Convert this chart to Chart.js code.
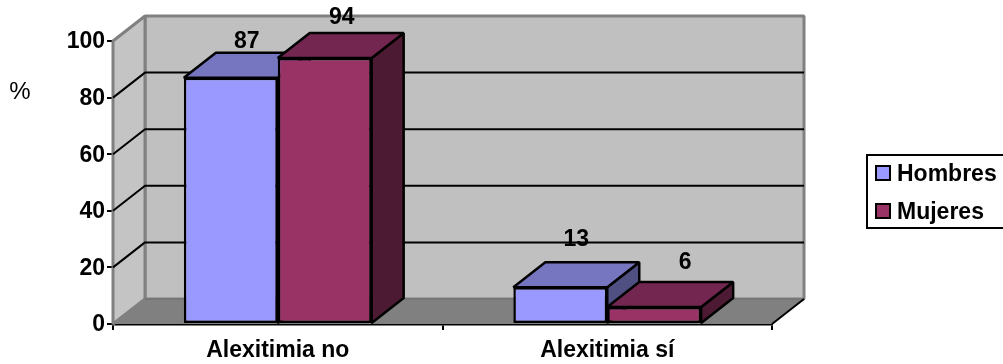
<!DOCTYPE html>
<html>
<head>
<meta charset="utf-8">
<style>html,body{margin:0;padding:0;background:#fff}canvas{display:block}</style>
<script src="https://cdn.jsdelivr.net/npm/chart.js@4"></script>
</head>
<body>
<canvas id="c" width="1003" height="364"></canvas>
<script>
// Alexitimia por sexo (%)
const categories = ['Alexitimia no', 'Alexitimia sí'];
const hombres = [87, 13];
const mujeres = [94, 6];
const yTicks = [0, 20, 40, 60, 80, 100];
const unitLabel = '%';

const FONT = '"Liberation Sans", Arial, sans-serif';
const DEPTH_X = 32, DEPTH_Y = 25;
const EDGE = 2.5;
const palette = [
  { front: '#9999FF', top: '#7676C0', side: '#4F4F82' },
  { front: '#993366', top: '#732750', side: '#4D1A33' }
];
// Nudges for the value labels, per series and category
const labelNudge = [[[16, -36], [16, -48]], [[17, -40], [31, -44]]];

function poly(ctx, pts, fill, stroke, width) {
  ctx.beginPath();
  pts.forEach((p, i) => i ? ctx.lineTo(p[0], p[1]) : ctx.moveTo(p[0], p[1]));
  ctx.closePath();
  if (fill) { ctx.fillStyle = fill; ctx.fill(); }
  if (stroke) { ctx.strokeStyle = stroke; ctx.lineWidth = width; ctx.stroke(); }
}

const box3d = {
  id: 'box3d',
  beforeDraw(chart) {
    // Optical centring of the value axis labels against their tick marks
    chart.scales.y.getLabelItems().forEach(item => {
      if (!item.centred) { item.options.translation[1] += 1; item.centred = true; }
    });
  },
  beforeDatasetsDraw(chart) {
    const { ctx, chartArea: a, scales: { y } } = chart;
    const dx = DEPTH_X, dy = DEPTH_Y;
    ctx.save();
    ctx.lineJoin = 'bevel';
    // Back wall
    poly(ctx, [[a.left + dx, a.top - dy], [a.right + dx, a.top - dy], [a.right + dx, a.bottom - dy], [a.left + dx, a.bottom - dy]], '#C0C0C0', '#808080', 3);
    // Left wall
    poly(ctx, [[a.left, a.top], [a.left + dx, a.top - dy], [a.left + dx, a.bottom - dy], [a.left, a.bottom]], '#C4C4C4', '#808080', 3);
    // Floor
    poly(ctx, [[a.left, a.bottom], [a.left + dx, a.bottom - dy], [a.right + dx, a.bottom - dy], [a.right, a.bottom]], '#808080');
    ctx.strokeStyle = '#6E6E6E'; ctx.lineWidth = 1;
    ctx.beginPath(); ctx.moveTo(a.left + dx, a.bottom - dy); ctx.lineTo(a.right + dx, a.bottom - dy); ctx.stroke();
    ctx.strokeStyle = '#000'; ctx.lineWidth = 2;
    ctx.beginPath(); ctx.moveTo(a.right, a.bottom); ctx.lineTo(a.right + dx, a.bottom - dy); ctx.stroke();
    // Gridlines wrap around the left and back walls
    yTicks.slice(1, -1).forEach(v => {
      const py = y.getPixelForValue(v);
      ctx.beginPath();
      ctx.moveTo(a.left, py);
      ctx.lineTo(a.left + dx, py - dy);
      ctx.lineTo(a.right + dx, py - dy);
      ctx.stroke();
    });
    // Top and side faces of the bars
    chart.data.datasets.forEach((ds, i) => {
      chart.getDatasetMeta(i).data.forEach(bar => {
        const l = bar.x - bar.width / 2, r = bar.x + bar.width / 2, t = bar.y, b = bar.base;
        const c = palette[i];
        poly(ctx, [[r, t], [r + dx, t - dy], [r + dx, b - dy], [r, b]], c.side, '#000', EDGE);
        poly(ctx, [[l, t], [l + dx, t - dy], [r + dx, t - dy], [r, t]], c.top, '#000', EDGE);
      });
    });
    ctx.restore();
  },
  afterDraw(chart) {
    const { ctx } = chart;
    ctx.save();
    ctx.fillStyle = '#000';
    // Value labels
    ctx.font = 'bold 23px ' + FONT;
    ctx.textAlign = 'center';
    ctx.textBaseline = 'middle';
    chart.data.datasets.forEach((ds, i) => {
      chart.getDatasetMeta(i).data.forEach((bar, j) => {
        const n = labelNudge[i][j];
        ctx.fillText(String(ds.data[j]), bar.x + n[0], bar.y + n[1]);
      });
    });
    // Unit next to the value axis
    ctx.font = '24px ' + FONT;
    ctx.fillText(unitLabel, 20, 92);
    // Legend
    ctx.strokeStyle = '#000';
    ctx.lineWidth = 2;
    ctx.strokeRect(867, 155, 140, 73);
    ctx.textAlign = 'left';
    ctx.font = 'bold 23px ' + FONT;
    chart.data.datasets.forEach((ds, i) => {
      const cy = 173 + i * 38;
      ctx.fillStyle = ds.backgroundColor;
      ctx.fillRect(876, cy - 7, 14, 14);
      ctx.strokeRect(876, cy - 7, 14, 14);
      ctx.fillStyle = '#000';
      ctx.fillText(ds.label, 897, cy + 2);
    });
    ctx.restore();
  }
};

new Chart(document.getElementById('c'), {
  type: 'bar',
  data: {
    labels: categories,
    datasets: [
      { label: 'Hombres', data: hombres, backgroundColor: palette[0].front, borderColor: '#000', borderWidth: EDGE, borderSkipped: false },
      { label: 'Mujeres', data: mujeres, backgroundColor: palette[1].front, borderColor: '#000', borderWidth: EDGE, borderSkipped: false }
    ]
  },
  options: {
    responsive: false,
    animation: false,
    events: [],
    layout: { padding: { top: 41, right: 231, left: 0, bottom: 0 } },
    plugins: { legend: { display: false }, tooltip: { enabled: false } },
    datasets: { bar: { categoryPercentage: 0.57, barPercentage: 1 } },
    scales: {
      x: {
        afterFit(s) { s.height = 40; },
        grid: { offset: true, drawOnChartArea: false, color: '#000', lineWidth: 2, tickLength: 6 },
        border: { color: '#000', width: 2.5 },
        ticks: { color: '#000', padding: 7, font: { family: FONT, size: 23, weight: 'bold' }, maxRotation: 0 }
      },
      y: {
        min: 0, max: 100,
        afterFit(s) { s.width = 113; },
        afterBuildTicks(s) { s.ticks = yTicks.map(v => ({ value: v })); },
        grid: { drawOnChartArea: false, color: '#000', lineWidth: 2, tickLength: 6 },
        border: { color: '#000', width: 2.5 },
        ticks: { color: '#000', padding: 2, font: { family: FONT, size: 23, weight: 'bold' } }
      }
    }
  },
  plugins: [box3d]
});
</script>
</body>
</html>
